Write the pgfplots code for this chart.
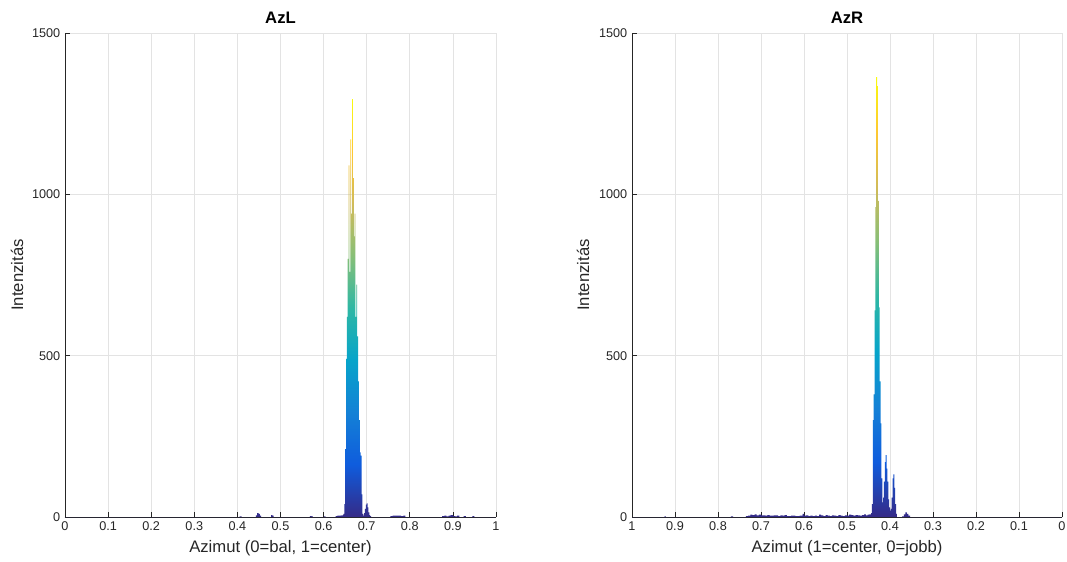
\documentclass[border=0pt]{standalone}
\usepackage{fontspec}
\setmainfont{Liberation Sans}
\usepackage{pgfplots}
\pgfplotsset{compat=1.18}
\definecolor{p0}{HTML}{352A87}
\definecolor{p1}{HTML}{0F5CDD}
\definecolor{p2}{HTML}{1481D6}
\definecolor{p3}{HTML}{06A4CA}
\definecolor{p4}{HTML}{2EB7A4}
\definecolor{p5}{HTML}{87BF77}
\definecolor{p6}{HTML}{D1BB59}
\definecolor{p7}{HTML}{FEC832}
\definecolor{p8}{HTML}{F9FB0E}
\definecolor{axc}{HTML}{262626}
\definecolor{gridc}{HTML}{E3E3E3}
\pgfdeclareverticalshading{parula}{100bp}{color(0bp)=(p0); color(25bp)=(p0); color(31.25bp)=(p1); color(37.5bp)=(p2); color(43.75bp)=(p3); color(50bp)=(p4); color(56.25bp)=(p5); color(62.5bp)=(p6); color(68.75bp)=(p7); color(75bp)=(p8); color(100bp)=(p8)}

\pgfplotstableread{
x y
0.000 0
0.400 0
0.405 2
0.410 0
0.440 0
0.443 5
0.446 12
0.449 10
0.452 4
0.455 0
0.475 0
0.478 6
0.481 4
0.484 0
0.565 0
0.568 3
0.572 2
0.575 0
0.600 0
0.602 3
0.604 0
0.625 0
0.628 3
0.632 4
0.636 4
0.640 5
0.642 4
0.644 6
0.646 10
0.648 40
0.650 210
0.652 490
0.654 620
0.656 800
0.658 1090
0.660 760
0.662 1170
0.664 940
0.666 1295
0.668 1050
0.670 870
0.672 940
0.674 620
0.676 720
0.678 560
0.680 420
0.682 300
0.684 200
0.686 190
0.688 70
0.690 10
0.692 4
0.694 12
0.696 25
0.698 38
0.700 42
0.702 30
0.704 14
0.706 6
0.708 3
0.710 0
0.750 0
0.755 3
0.760 4
0.770 4
0.780 3
0.785 4
0.790 0
0.870 0
0.875 3
0.880 4
0.885 2
0.890 4
0.895 6
0.900 3
0.905 2
0.910 4
0.915 0
0.925 3
0.930 0
0.945 3
0.950 0
1.000 0
}\azl

\pgfplotstableread{
x y
0.000 0
0.350 0
0.353 4
0.357 10
0.361 14
0.364 8
0.368 2
0.372 0
0.380 0
0.384 10
0.386 40
0.388 90
0.390 132
0.392 120
0.394 60
0.396 25
0.398 20
0.400 30
0.402 55
0.404 110
0.406 150
0.408 192
0.410 170
0.412 110
0.414 60
0.416 45
0.418 120
0.420 290
0.422 420
0.424 650
0.426 980
0.428 1335
0.430 1363
0.432 960
0.434 640
0.436 380
0.438 300
0.440 40
0.442 12
0.444 8
0.448 7
0.452 5
0.456 8
0.460 6
0.465 4
0.470 5
0.475 6
0.480 4
0.485 6
0.490 7
0.495 4
0.500 5
0.505 3
0.510 4
0.515 6
0.520 3
0.525 4
0.530 5
0.535 3
0.540 4
0.545 6
0.550 3
0.555 5
0.560 7
0.565 3
0.570 4
0.575 3
0.580 4
0.585 3
0.590 5
0.595 4
0.600 10
0.603 4
0.610 3
0.620 4
0.630 3
0.640 6
0.645 4
0.650 5
0.655 3
0.660 5
0.670 4
0.680 6
0.685 4
0.690 5
0.700 7
0.705 5
0.710 8
0.715 6
0.720 7
0.725 4
0.730 3
0.735 0
0.760 0
0.765 2
0.770 0
0.920 0
0.922 3
0.924 0
1.000 0
}\azr

\pgfplotsset{
  every axis title shift=0pt,
  mystyle/.style={
    scale only axis,
    height=363pt,
    xmin=0, xmax=1, ymin=0, ymax=1500,
    axis x line*=bottom, axis y line*=left,
    axis line style={-, color=axc, line width=0.7pt},
    grid=major,
    grid style={color=gridc, line width=0.6pt},
    xtick={0,0.1,0.2,0.3,0.4,0.5,0.6,0.7,0.8,0.9,1},
    xticklabels={0,0.1,0.2,0.3,0.4,0.5,0.6,0.7,0.8,0.9,1},
    ytick={0,500,1000,1500},
    yticklabels={0,500,1000,1500},
    tick align=inside,
    major tick length=3.5pt,
    tick style={color=axc, line width=0.6pt},
    ticklabel style={font=\fontsize{9.5}{11}\selectfont, color=axc},
    label style={font=\fontsize{12.5}{14}\selectfont, color=axc},
    title style={font=\fontsize{12.5}{14}\selectfont\bfseries, anchor=center},
    ylabel={Intenzitás},
  }
}

\begin{document}
\begin{tikzpicture}
\begin{axis}[mystyle,
  at={(0pt,0pt)}, anchor=south west,
  width=323.25pt,
  title={AzL},
  title style={at={(axis description cs:0.5,1.031)}},
  xlabel={Azimut (0=bal, 1=center)},
  xlabel style={at={(axis description cs:0.5,-0.064)}, anchor=center},
  ylabel style={at={(axis description cs:-0.111,0.5)}, anchor=center},
]
\addplot[draw=none, const plot, shading=parula] table[x=x, y=y] {\azl} \closedcycle;
\end{axis}
\begin{axis}[mystyle,
  at={(425.25pt,0pt)}, anchor=south west,
  width=322.5pt,
  x dir=reverse,
  title={AzR},
  title style={at={(axis description cs:0.5,1.031)}},
  xlabel={Azimut (1=center, 0=jobb)},
  xlabel style={at={(axis description cs:0.5,-0.064)}, anchor=center},
  ylabel style={at={(axis description cs:-0.114,0.5)}, anchor=center},
]
\addplot[draw=none, const plot, shading=parula] table[x=x, y=y] {\azr} \closedcycle;
\end{axis}
\pgfresetboundingbox
\path (-48.75pt,-33pt) rectangle (751.5pt,387.75pt);
\end{tikzpicture}
\end{document}
